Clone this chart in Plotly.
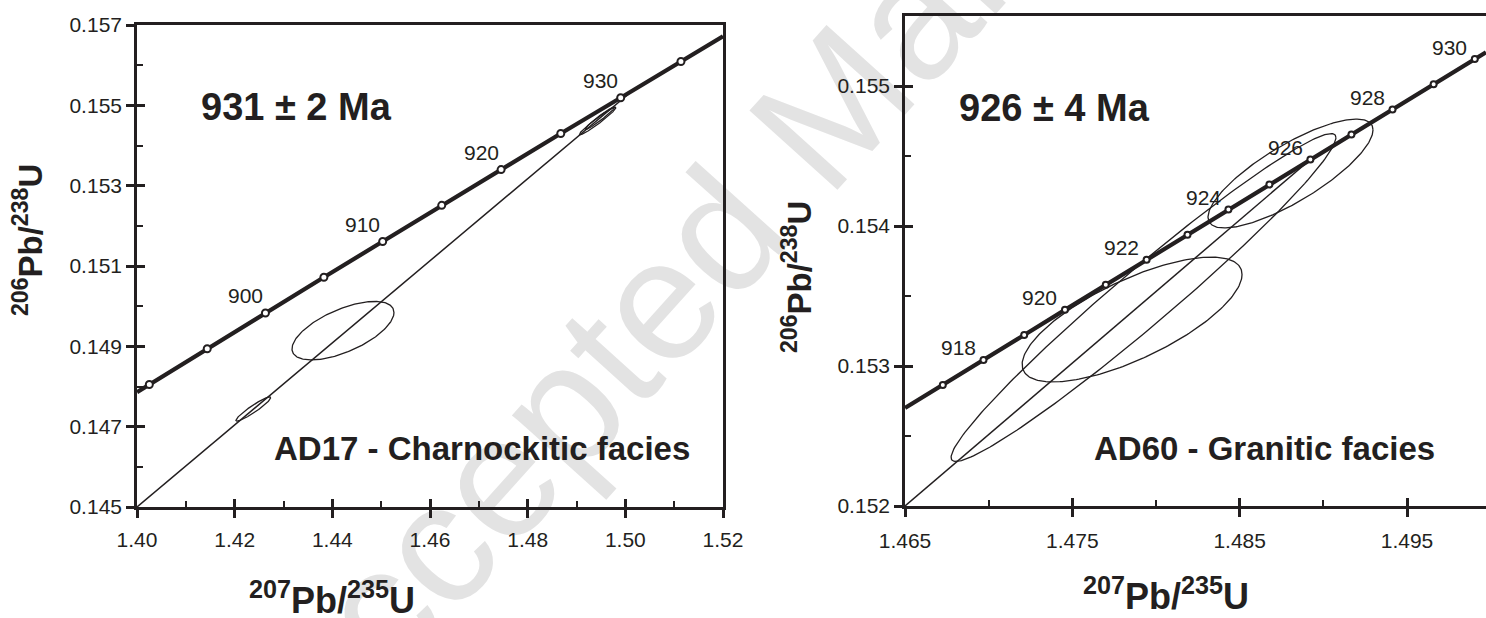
import numpy as np
import plotly.graph_objects as go

FONT = "Liberation Sans, Arial, Helvetica, sans-serif"
INK = "#231f20"
W, H = 1486, 618

# ---------------- AD17 - Charnockitic facies ----------------
ad17_ages = [890, 895, 900, 905, 910, 915, 920, 925, 930, 935]
ad17_r75 = [1.40252, 1.41438, 1.42630, 1.43827, 1.45031, 1.46240, 1.47456, 1.48678, 1.49905, 1.51139]
ad17_r68 = [0.14805, 0.14894, 0.14983, 0.15072, 0.15161, 0.15251, 0.15340, 0.15430, 0.15519, 0.15609]
ad17_labelled = [900, 910, 920, 930]
ad17_curve_end_x = [1.400, 1.520]
ad17_curve_end_y = [0.14786, 0.15672]
# error ellipses: centre, half-extent in x and y, correlation
ad17_ell_x = [1.42382, 1.44218, 1.49434, 1.49480]
ad17_ell_y = [0.14744, 0.14939, 0.15461, 0.15468]
ad17_ell_hx = [0.00357, 0.01044, 0.00376, 0.00300]
ad17_ell_hy = [0.00030, 0.000728, 0.000345, 0.00028]
ad17_ell_rho = [0.94, 0.62, 0.97, 0.97]
ad17_disc_x = [1.400, 1.5015]
ad17_disc_y = [0.1450, 0.15537]

# ---------------- AD60 - Granitic facies ----------------
ad60_ages = [917, 918, 919, 920, 921, 922, 923, 924, 925, 926, 927, 928, 929, 930]
ad60_r75 = [1.467258, 1.469690, 1.472123, 1.474559, 1.476997, 1.479438, 1.481881,
            1.484327, 1.486775, 1.489225, 1.491678, 1.494133, 1.496590, 1.499050]
ad60_r68 = [0.152864, 0.153043, 0.153222, 0.153401, 0.153580, 0.153759, 0.153938,
            0.154117, 0.154296, 0.154475, 0.154654, 0.154833, 0.155012, 0.155192]
ad60_labelled = [918, 920, 922, 924, 926, 928, 930]
ad60_curve_end_x = [1.465, 1.49972]
ad60_curve_end_y = [0.152701, 0.155240]
ad60_ell_x = [1.47857, 1.479253, 1.488038]
ad60_ell_y = [0.153332, 0.153489, 0.154375]
ad60_ell_hx = [0.00657, 0.011498, 0.00493]
ad60_ell_hy = [0.000446, 0.001171, 0.000389]
ad60_ell_rho = [0.72, 0.975, 0.80]
ad60_disc_x = [1.465, 1.48923]
ad60_disc_y = [0.1520, 0.154475]


def ellipse(cx, cy, hx, hy, rho, n=240):
    t = np.linspace(0, 2 * np.pi, n)
    x = cx + hx * np.cos(t)
    y = cy + hy * (rho * np.cos(t) + np.sqrt(1 - rho ** 2) * np.sin(t))
    return x, y


def px_x(p):
    return p / W


def px_y(p):
    return 1 - p / H


fig = go.Figure()


def add_panel(xa, ya, ages, r75, r68, ends_x, ends_y, ex, ey, ehx, ehy, erho,
              dx, dy, msize):
    for cx, cy, hx, hy, rho in zip(ex, ey, ehx, ehy, erho):
        x, y = ellipse(cx, cy, hx, hy, rho)
        fig.add_trace(go.Scatter(x=x, y=y, mode="lines", xaxis=xa, yaxis=ya,
                                 line=dict(color=INK, width=1.3),
                                 showlegend=False, hoverinfo="skip"))
    fig.add_trace(go.Scatter(x=dx, y=dy, mode="lines", xaxis=xa, yaxis=ya,
                             line=dict(color=INK, width=1.5),
                             showlegend=False, hoverinfo="skip"))
    cx = [ends_x[0]] + list(r75) + [ends_x[1]]
    cy = [ends_y[0]] + list(r68) + [ends_y[1]]
    fig.add_trace(go.Scatter(x=cx, y=cy, mode="lines", xaxis=xa, yaxis=ya,
                             line=dict(color=INK, width=4.2),
                             showlegend=False, hoverinfo="skip"))
    fig.add_trace(go.Scatter(x=r75, y=r68, mode="markers", xaxis=xa, yaxis=ya,
                             marker=dict(size=msize, color="white",
                                         line=dict(color=INK, width=2)),
                             text=[str(a) for a in ages],
                             showlegend=False, hoverinfo="text"))


add_panel("x", "y", ad17_ages, ad17_r75, ad17_r68, ad17_curve_end_x, ad17_curve_end_y,
          ad17_ell_x, ad17_ell_y, ad17_ell_hx, ad17_ell_hy, ad17_ell_rho,
          ad17_disc_x, ad17_disc_y, 7)
add_panel("x2", "y2", ad60_ages, ad60_r75, ad60_r68, ad60_curve_end_x, ad60_curve_end_y,
          ad60_ell_x, ad60_ell_y, ad60_ell_hx, ad60_ell_hy, ad60_ell_rho,
          ad60_disc_x, ad60_disc_y, 6)

# placeholder traces so the inner-tick overlay axes get drawn
for xa, ya in [("x3", "y"), ("x", "y3"), ("x4", "y2"), ("x2", "y4")]:
    fig.add_trace(go.Scatter(x=[None], y=[None], xaxis=xa, yaxis=ya,
                             showlegend=False, hoverinfo="skip"))

annotations = []
for age, x, y in zip(ad17_ages, ad17_r75, ad17_r68):
    if age in ad17_labelled:
        annotations.append(dict(x=x, y=y, xref="x", yref="y", text=str(age),
                                showarrow=False, xshift=-20, yshift=17,
                                font=dict(size=21, color=INK, family=FONT)))
for age, x, y in zip(ad60_ages, ad60_r75, ad60_r68):
    if age in ad60_labelled:
        annotations.append(dict(x=x, y=y, xref="x2", yref="y2", text=str(age),
                                showarrow=False, xshift=-25, yshift=12,
                                font=dict(size=21, color=INK, family=FONT)))


def paper_text(text, px, py, size, bold=True, angle=0):
    return dict(x=px_x(px), y=px_y(py), xref="paper", yref="paper",
                text=f"<b>{text}</b>" if bold else text, showarrow=False,
                xanchor="center", yanchor="middle", textangle=angle,
                font=dict(size=size, color=INK, family=FONT))


annotations += [
    paper_text("931 ± 2 Ma", 296, 107, 38),
    paper_text("926 ± 4 Ma", 1054, 108, 38),
    paper_text("AD17 - Charnockitic facies", 482, 448, 33),
    paper_text("AD60 - Granitic facies", 1264, 448, 33),
    paper_text("<sup>207</sup>Pb/<sup>235</sup>U", 332, 598, 36),
    paper_text("<sup>207</sup>Pb/<sup>235</sup>U", 1166, 594, 36),
    paper_text("<sup>206</sup>Pb/<sup>238</sup>U", 28, 240, 33, angle=-90),
    paper_text("<sup>206</sup>Pb/<sup>238</sup>U", 797, 277, 33, angle=-90),
]

left_x_dom = [px_x(137), px_x(723)]
left_y_dom = [px_y(507), px_y(25)]
right_x_dom = [px_x(905), 1.0]
right_y_dom = [px_y(506), px_y(16)]

tickfont = dict(size=21, color=INK, family=FONT)


def main_axis(dom, rng, tick0, dtick, fmt, anchor, mirror, standoff):
    return dict(domain=dom, range=rng, tickmode="linear", tick0=tick0, dtick=dtick,
                ticks="outside", ticklen=8, tickwidth=2.5, tickcolor=INK,
                showline=True, linewidth=2.6, linecolor=INK, mirror=mirror,
                showgrid=False, zeroline=False, tickformat=fmt, tickfont=tickfont,
                anchor=anchor, automargin=False, ticklabelstandoff=standoff,
                fixedrange=True)


def inner_axis(over, anchor, rng, tick0, dtick, mdtick):
    return dict(overlaying=over, anchor=anchor, range=rng, tickmode="linear",
                tick0=tick0, dtick=dtick, ticks="inside", ticklen=8, tickwidth=2.5,
                tickcolor=INK, showticklabels=False, showline=False, showgrid=False,
                zeroline=False, automargin=False, fixedrange=True,
                minor=dict(ticks="inside", ticklen=6, tickwidth=2, tickcolor=INK,
                           tick0=tick0, dtick=mdtick, showgrid=False))


l_xr = [1.40, 1.52]
l_yr = [0.145, 0.157]
r_xr = [1.465, 1.49972]
r_yr = [0.152, 0.1555]

fig.update_layout(
    width=W, height=H, autosize=False,
    margin=dict(l=0, r=0, t=0, b=0, pad=0),
    paper_bgcolor="white", plot_bgcolor="rgba(0,0,0,0)",
    font=dict(family=FONT, color=INK),
    showlegend=False,
    xaxis=main_axis(left_x_dom, l_xr, 1.40, 0.02, ".2f", "y", True, 4),
    yaxis=main_axis(left_y_dom, l_yr, 0.145, 0.002, ".3f", "x", True, 0),
    xaxis2=main_axis(right_x_dom, r_xr, 1.465, 0.01, ".3f", "y2", True, 6),
    yaxis2=main_axis(right_y_dom, r_yr, 0.152, 0.001, ".3f", "x2", False, 0),
    xaxis3=inner_axis("x", "y", l_xr, 1.40, 0.02, 0.01),
    yaxis3=inner_axis("y", "x", l_yr, 0.145, 0.002, 0.001),
    xaxis4=inner_axis("x2", "y2", r_xr, 1.465, 0.01, 0.005),
    yaxis4=inner_axis("y2", "x2", r_yr, 0.152, 0.001, 0.0005),
    annotations=annotations,
    shapes=[dict(type="rect", xref="paper", yref="paper",
                 x0=px_x(787), x1=px_x(807), y0=px_y(131), y1=px_y(111),
                 line=dict(width=0), fillcolor="rgba(0,0,0,0)", layer="below",
                 label=dict(text="Accepted Manuscript", textangle=-48,
                            textposition="middle center",
                            font=dict(size=172, color="#e3e3e3", family=FONT)))],
)

fig.write_html("out.html")
